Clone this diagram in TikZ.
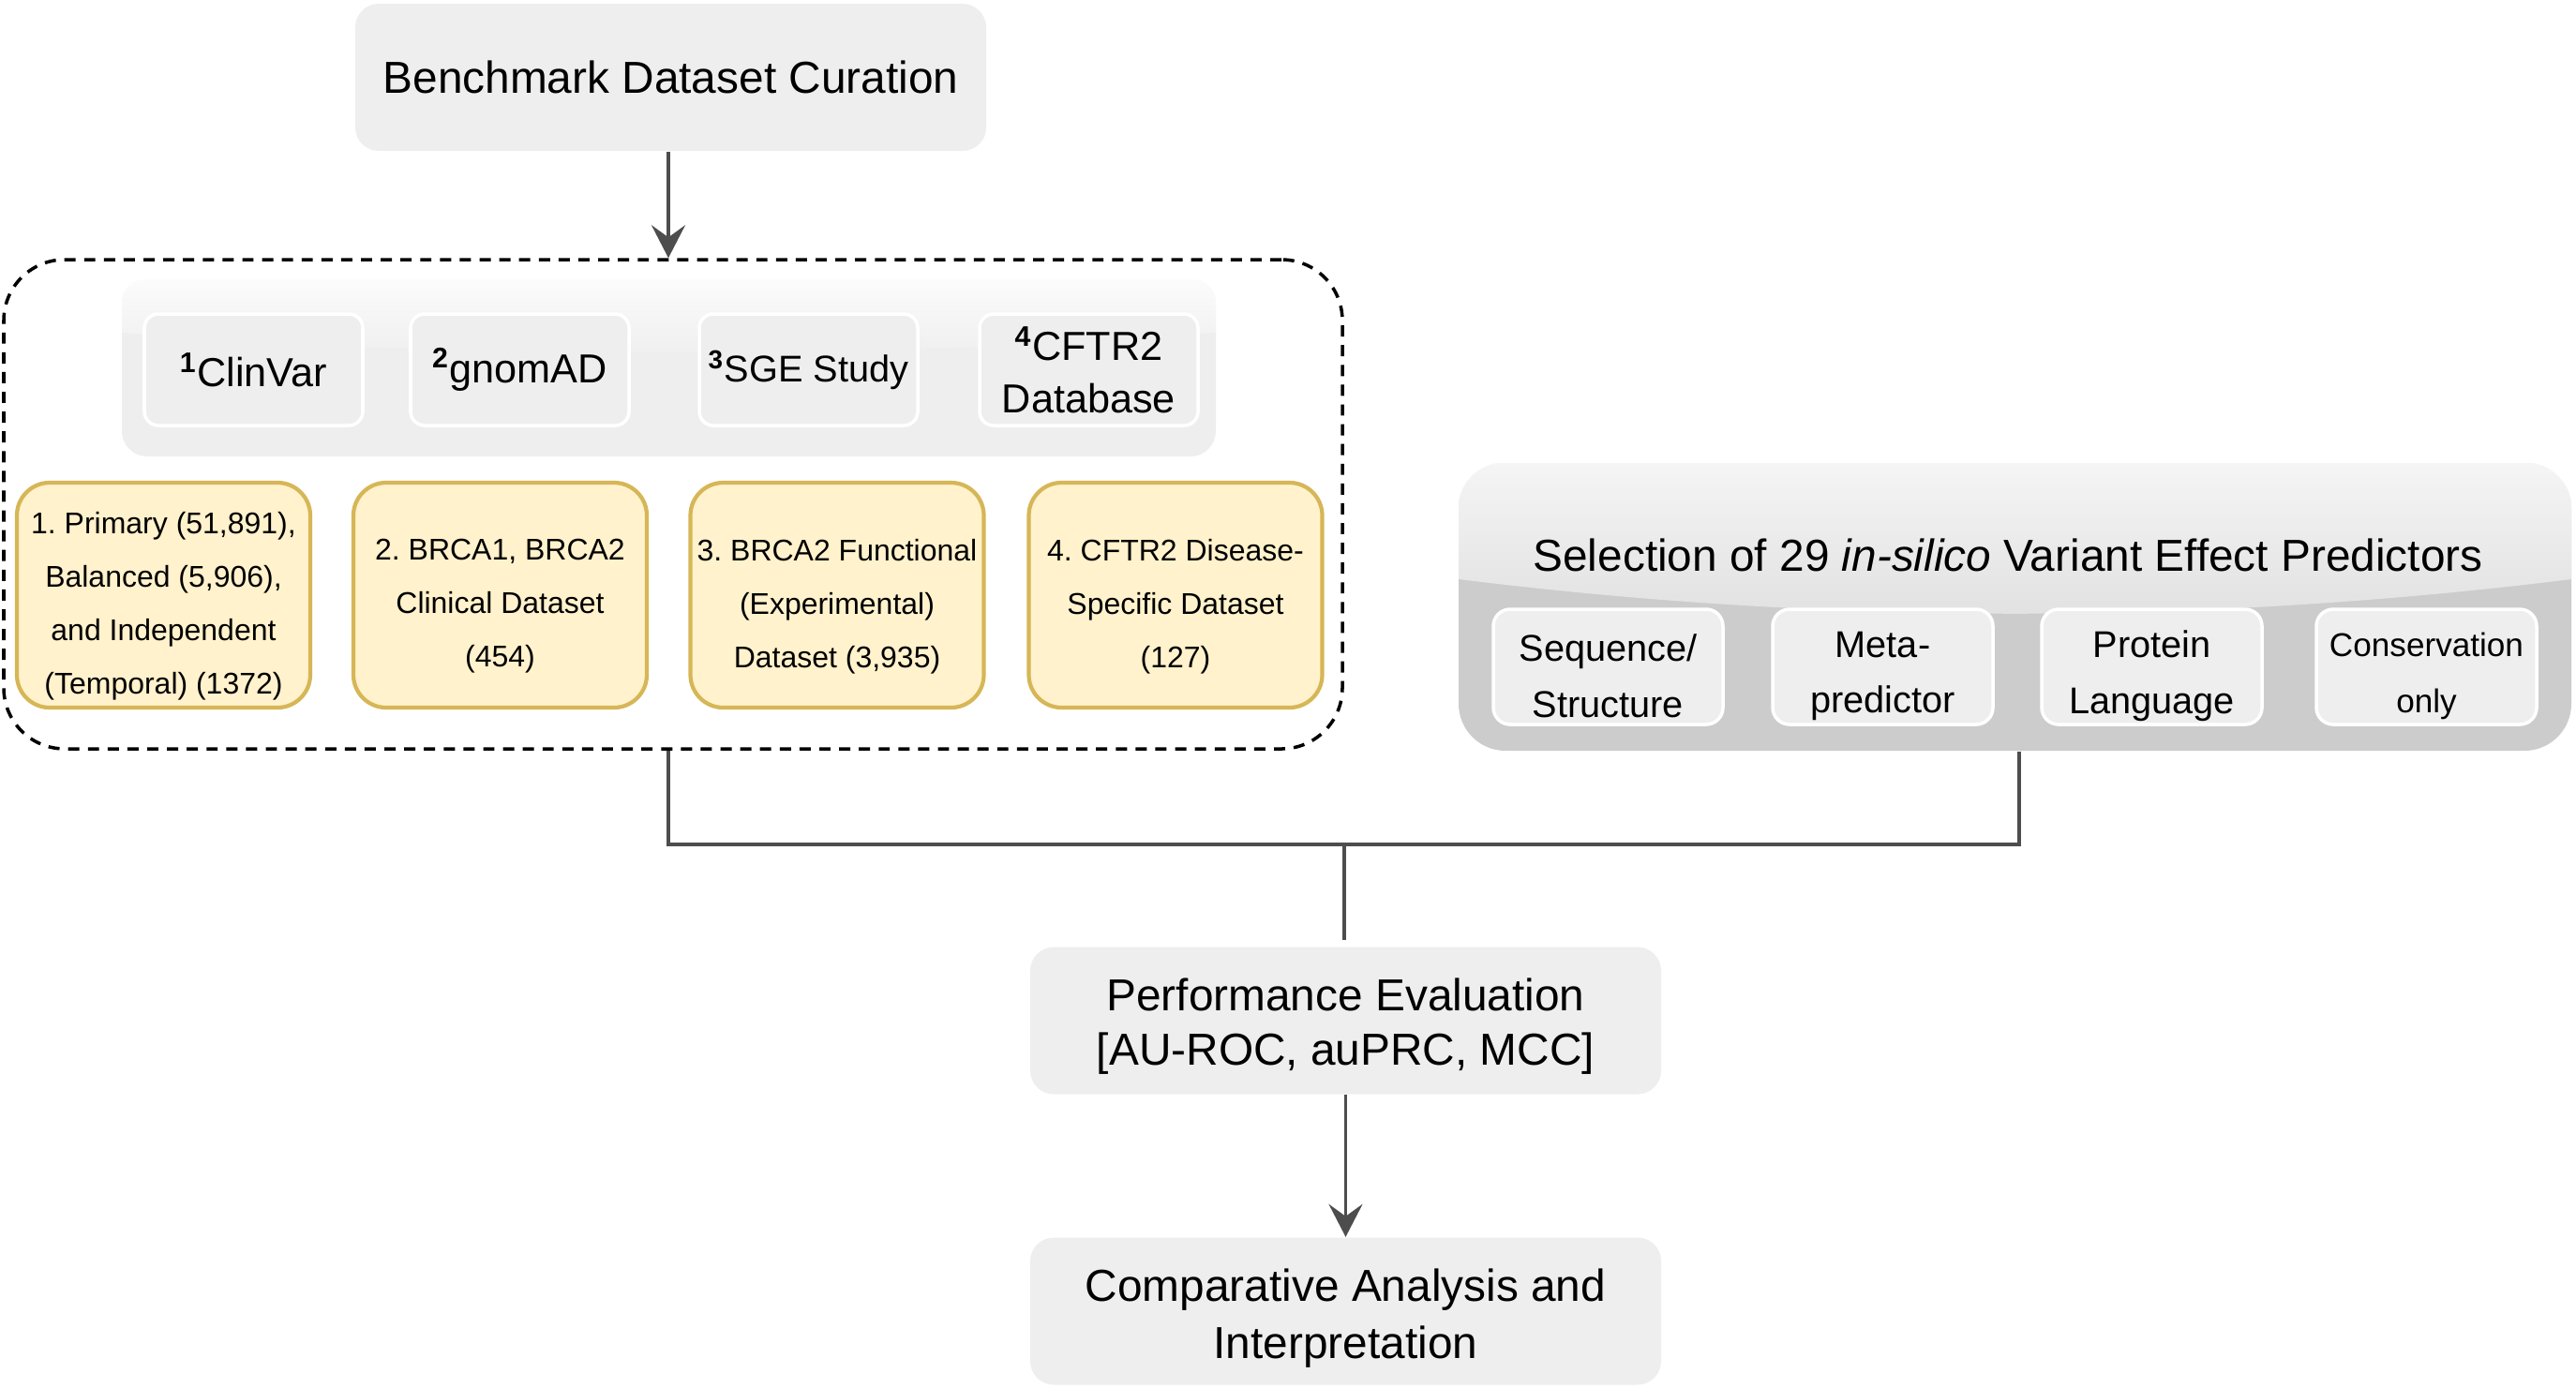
\documentclass[tikz,border=0pt]{standalone}
\usepackage{fontspec}
\setmainfont{Liberation Sans}
\usetikzlibrary{arrows.meta}
\frenchspacing

\definecolor{boxgrey}{HTML}{EEEEEE}
\definecolor{setfill}{HTML}{FFF2CC}
\definecolor{setborder}{HTML}{D6B656}
\definecolor{predgrey}{HTML}{CCCCCC}
\definecolor{linkgrey}{HTML}{4D4D4D}

\tikzset{
  greybox/.style={fill=boxgrey, rounded corners=0.25cm, minimum width=6.73cm, minimum height=1.57cm,
    align=center, inner sep=0pt, font=\fontsize{13.6}{16.8}\selectfont},
  greytext/.style={align=center, inner sep=0pt, yshift=-0.6mm, font=\fontsize{13.6}{16.6}\selectfont},
  srcbox/.style={draw=white, line width=1pt, fill=boxgrey, rounded corners=0.15cm, minimum width=2.33cm,
    minimum height=1.19cm, align=center, inner sep=0pt, font=\fontsize{12.3}{15.9}\selectfont},
  setbox/.style={draw=setborder, fill=setfill, line width=1.2pt, rounded corners=0.35cm, minimum width=3.13cm,
    minimum height=2.40cm, inner sep=0pt},
  settext/.style={align=center, inner sep=0pt, yshift=-1.2mm, font=\fontsize{9.1}{16.2}\selectfont},
  predbox/.style={draw=white, line width=1pt, fill=boxgrey, rounded corners=0.18cm, minimum width=2.35cm,
    minimum height=1.23cm, inner sep=0pt},
  predtext/.style={align=center, inner sep=0pt, yshift=-1mm, font=\fontsize{11.3}{17}\selectfont},
  dashbox/.style={draw=black, line width=1pt, dash pattern=on 3.4pt off 2.6pt, rounded corners=0.65cm,
    inner sep=0pt},
  link/.style={draw=linkgrey, line width=1pt},
  flow/.style={link, -{Stealth[length=3.5mm, width=3.6mm, inset=1.3mm]}}
}

\newcommand{\srcnum}[1]{\textsuperscript{\textbf{#1}}}

\begin{document}
\begin{tikzpicture}

\useasboundingbox (0,0) rectangle (27.48,-14.80);

% -- curation
\node [greybox] (bench) at (7.155,-0.825) {Benchmark Dataset Curation};

\node [dashbox, minimum width=14.28cm, minimum height=5.22cm] (datasets) at (7.18,-5.38) {};

% -- sources
\node [fill=boxgrey, rounded corners=0.27cm, minimum width=11.67cm, minimum height=1.89cm] (sources) at (7.135,-3.925) {};
\begin{scope}
  \clip[rounded corners=0.27cm] (sources.south west) rectangle (sources.north east);
  \shade[top color=white!80!boxgrey, bottom color=boxgrey] (1.30,-2.98) -- (12.97,-2.98) -- (12.97,-3.55)
    .. controls (9.0,-3.85) and (5.3,-3.85) .. (1.30,-3.55) -- cycle;
\end{scope}

\node [srcbox] (clinvar) at (2.705,-3.945) {\srcnum{1}ClinVar};
\node [srcbox] (gnomad) at (5.545,-3.945) {\srcnum{2}gnomAD};
\node [srcbox, font=\fontsize{11.3}{15.9}\selectfont] (sge) at (8.625,-3.945) {\srcnum{3}SGE Study};
\node [srcbox] (cftr) at (11.615,-3.945) {\srcnum{4}CFTR2\\Database};

% -- datasets
\node [setbox, label={[settext]center:1. Primary (51,891),\\Balanced (5,906),\\and Independent\\(Temporal) (1372)}] (set1) at (1.745,-6.35) {};
\node [setbox, label={[settext]center:2. BRCA1, BRCA2\\Clinical Dataset\\(454)}] (set2) at (5.335,-6.35) {};
\node [setbox, label={[settext]center:3. BRCA2 Functional\\(Experimental)\\Dataset (3,935)}] (set3) at (8.93,-6.35) {};
\node [setbox, label={[settext]center:4. CFTR2 Disease-\\Specific Dataset\\(127)}] (set4) at (12.54,-6.35) {};

% -- predictors
\node [fill=predgrey, rounded corners=0.5cm, minimum width=11.87cm, minimum height=3.07cm] (predpanel) at (21.495,-6.475) {};
\begin{scope}
  \clip[rounded corners=0.5cm] (predpanel.south west) rectangle (predpanel.north east);
  \shade[top color=black!4, bottom color=black!12] (15.56,-4.94) -- (27.43,-4.94) -- (27.43,-6.18)
    .. controls (23.5,-6.67) and (19.5,-6.67) .. (15.56,-6.18) -- cycle;
\end{scope}
\node [font=\fontsize{13.6}{16.8}\selectfont] (predhead) at (21.42,-5.92) {Selection of 29 \textit{in-silico} Variant Effect Predictors};

\node [predbox, minimum width=2.45cm, label={[predtext]center:Sequence/\\Structure}] (seqs) at (17.155,-7.115) {};
\node [predbox, label={[predtext]center:Meta-\\predictor}] (meta) at (20.085,-7.115) {};
\node [predbox, label={[predtext]center:Protein\\Language}] (plm) at (22.955,-7.115) {};
\node [predbox, label={[predtext, font=\fontsize{10}{17}\selectfont]center:Conservation\\only}] (cons) at (25.885,-7.115) {};

% -- evaluation
\coordinate (joint) at (14.34,-9.01);
\node [greybox, label={[greytext]center:Performance Evaluation\\{}[AU-ROC, auPRC, MCC]}] (perf) at (14.355,-10.89) {};
\node [greybox, label={[greytext, yshift=-0.2mm, font=\fontsize{13.6}{17.3}\selectfont]center:Comparative Analysis and\\Interpretation}] (compare) at (14.355,-13.99) {};

% -- draw arrows
\draw [flow] ([xshift=-0.25mm]bench.south) -- ([xshift=-0.25mm]bench.south |- datasets.north);
\draw [link] ([xshift=-0.5mm]datasets.south) |- (joint);
\draw [link] ([xshift=0.45mm]predpanel.south) |- (joint);
\draw [link, shorten >=0.07cm] (joint) -- (joint |- perf.north);
\draw [flow] (perf.south) -- (compare.north);

\end{tikzpicture}
\end{document}
